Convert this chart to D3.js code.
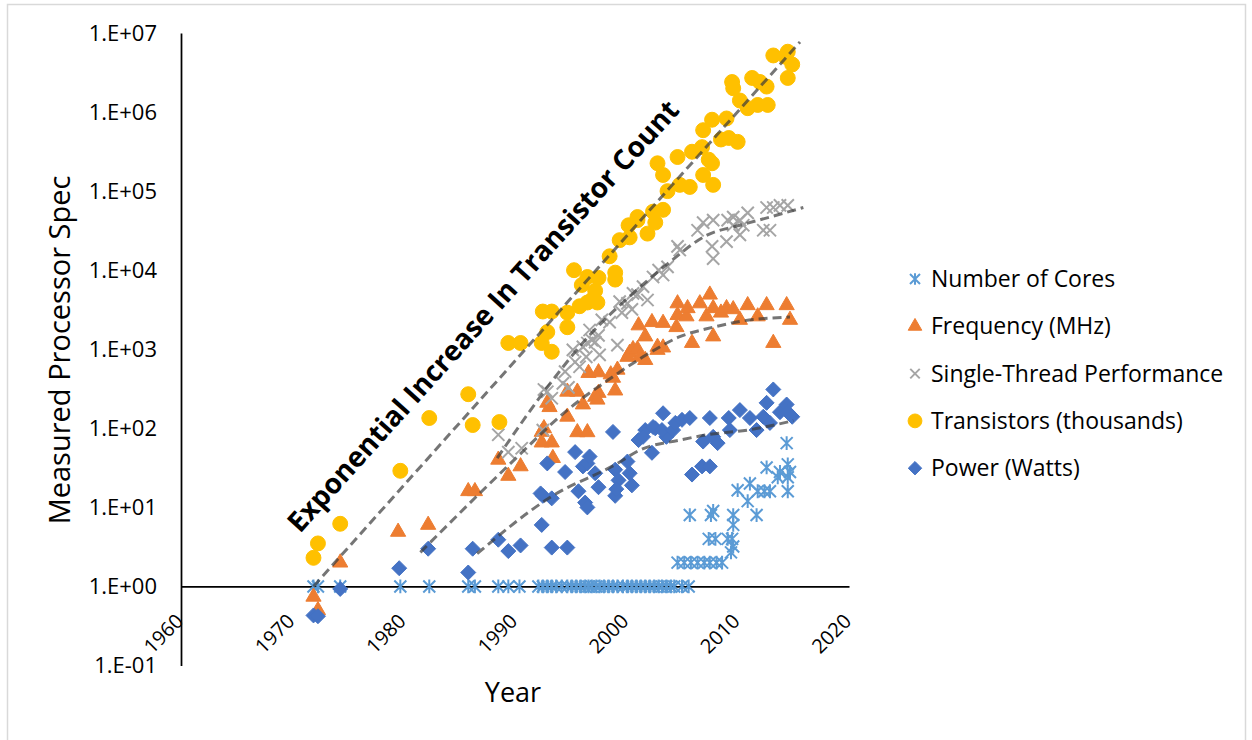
<!DOCTYPE html>
<html>
<head>
<meta charset="utf-8">
<script src="https://cdn.jsdelivr.net/npm/d3@7"></script>
<style>
  body { margin: 0; background: #fff; }
  text { font-family: "Open Sans", sans-serif; fill: #000; }
</style>
</head>
<body>
<svg id="chart" width="1252" height="740"></svg>
<script>
// ---- data: [year, value] ----
const cores = [
  [1971.9,1],[1972.3,1],[1974.3,1],[1979.7,1],[1982.3,1],[1985.8,1],[1986.4,1],[1988.5,1],[1989.4,1],[1990.4,1],
  [1992.1,1],[1992.5,1],[1992.9,1],[1993.3,1],[1993.7,1],[1994.2,1],[1994.7,1],[1995.1,1],[1995.5,1],[1995.9,1],
  [1996.3,1],[1996.6,1],[1996.9,1],[1997.3,1],[1997.6,1],[1998.0,1],[1998.4,1],[1998.8,1],[1999.2,1],[1999.7,1],
  [2000.1,1],[2000.5,1],[2000.9,1],[2001.3,1],[2001.7,1],[2002.1,1],[2002.5,1],[2002.9,1],[2003.2,1],[2003.6,1],
  [2004.0,1],[2004.3,1],[2005.0,1],[2005.6,1],
  [2004.6,2],[2005.2,2],[2005.8,2],[2006.4,2],[2007.0,2],[2007.5,2],[2008.1,2],[2008.6,2],
  [2007.4,4],[2008.0,4],[2009.1,4],[2009.5,4],[2009.6,3.2],[2009.4,2.7],
  [2005.7,8],[2007.6,8],[2007.8,9],[2009.6,8],[2009.6,6],[2011.7,8],
  [2010.9,12],[2010.0,16.5],[2011.1,20],[2011.8,16],[2012.4,16],[2012.9,16],[2012.6,32],
  [2013.6,24],[2013.8,28],[2014.5,35],[2014.5,24],[2014.5,16],[2014.4,65],[2014.7,28]
];

const frequency = [
  [1971.9,0.74],[1972.3,0.5],[1974.3,2.0],[1979.5,4.9],[1982.2,6],[1985.8,16],[1986.4,16],[1988.5,40],
  [1989.4,25],[1990.5,33],[1992.4,66],[1993.3,66],[1992.6,100],[1992.4,90],[1993.1,185],[1992.9,210],
  [1993.4,42],[1994.7,290],[1995.6,290],[1994.7,140],[1995.6,89],[1996.5,89],[1996.1,200],[1996.6,500],
  [1997.5,510],[1997.5,280],[1997.2,250],[1997.4,230],[1998.6,480],[1998.8,435],[1999.0,300],[1999.2,550],
  [2000.1,800],[2000.3,900],[2000.6,1000],[2001.0,1000],[2001.2,800],[2001.7,730],[2002.8,1070],[2002.8,980],
  [2003.3,1050],[2001.1,2000],[2001.7,1450],[2002.3,2200],[2003.3,2150],[2004.5,1900],[2004.6,2700],
  [2004.6,3800],[2005.4,2600],[2005.5,3300],[2005.9,1200],[2006.6,3800],[2007.2,2600],[2007.5,4900],
  [2007.8,3300],[2007.8,1450],[2008.5,2900],[2009.0,3300],[2009.6,3200],[2010.2,2350],[2010.9,3600],
  [2011.8,2600],[2012.6,3600],[2013.2,1200],[2014.4,3600],[2014.7,2350]
];

const singleThread = [
  [1988.5,83],[1989.4,50],[1990.6,56],[1992.5,95],[1992.6,310],[1992.9,290],[1993.3,240],[1994.3,370],
  [1994.5,520],[1994.8,330],[1995.2,980],[1995.4,690],[1995.8,600],[1996.1,1070],[1996.4,800],[1996.5,1200],
  [1996.7,1750],[1996.9,1300],[1997.2,1230],[1997.5,1500],[1997.6,850],[1997.8,2350],[1998.5,2200],
  [1999.2,1130],[1999.4,4000],[1999.6,2900],[2000.1,3800],[2000.5,3200],[2000.6,5100],[2001.0,4900],
  [2001.5,6200],[2001.9,4200],[2002.4,8200],[2002.9,10000],[2003.3,8700],[2003.7,11000],[2004.6,20000],
  [2004.8,18000],[2006.4,32000],[2006.9,40000],[2007.7,20000],[2007.8,14000],[2007.8,43000],[2009.0,23000],
  [2009.1,43000],[2009.6,37000],[2009.6,47000],[2010.2,28000],[2010.2,43000],[2010.5,37000],[2010.9,53000],
  [2012.3,32000],[2012.6,62000],[2012.9,32000],[2013.2,62000],[2013.8,66000],[2014.5,66000]
];

const transistors = [
  [1971.9,2.3],[1972.3,3.5],[1974.3,6.2],[1979.7,29],[1982.3,135],[1985.8,270],[1986.2,110],[1988.6,120],
  [1989.4,1200],[1990.5,1200],[1992.4,1200],[1992.5,3000],[1992.9,1650],[1993.3,3000],[1993.3,930],
  [1994.7,1900],[1994.7,2900],[1995.3,10000],[1995.8,3500],[1996.0,6500],[1996.5,8200],[1996.5,3900],
  [1996.9,4200],[1997.4,3900],[1997.5,8000],[1997.2,5500],[1998.5,15000],[1999.0,9300],[1999.0,7600],
  [1999.4,24000],[2000.2,37000],[2000.3,26000],[2001.0,47000],[2001.0,43000],[2001.9,29000],[2002.4,55000],
  [2002.6,40000],[2002.8,225000],[2003.3,58000],[2003.3,160000],[2003.7,100000],[2004.6,270000],
  [2004.8,120000],[2005.7,113000],[2005.9,315000],[2006.8,360000],[2006.9,590000],[2006.9,160000],
  [2007.4,250000],[2007.7,800000],[2007.7,225000],[2007.8,120000],[2008.5,450000],[2009.0,830000],
  [2009.2,470000],[2009.5,2400000],[2009.6,2000000],[2010.0,420000],[2010.2,1400000],[2010.9,1120000],
  [2011.3,2700000],[2011.8,1230000],[2012.0,2400000],[2012.6,2100000],[2012.7,1230000],[2013.2,5200000],
  [2014.3,5000000],[2014.5,5800000],[2014.5,2700000],[2014.9,4000000]
];

const power = [
  [1971.9,0.43],[1972.3,0.42],[1974.3,0.93],[1979.6,1.7],[1982.2,3.0],[1985.8,1.5],[1986.2,3.0],[1988.5,3.9],
  [1989.4,2.8],[1990.5,3.3],[1992.4,6],[1992.3,15],[1992.5,14],[1992.9,36],[1993.3,13],[1993.3,3.1],
  [1994.7,3.1],[1994.5,28],[1995.4,50],[1995.7,16],[1996.1,33],[1996.3,11.5],[1996.5,10],[1996.5,36],
  [1996.7,44],[1997.2,27],[1997.5,18],[1998.8,90],[1999.0,30],[1999.3,22],[1999.0,14],[1999.1,17],
  [2000.1,38],[2000.5,19],[2000.3,27],[2001.1,71],[2001.7,95],[2001.5,78],[2002.3,49],[2002.4,104],
  [2002.6,100],[2003.3,155],[2003.6,78],[2003.2,95],[2004.2,95],[2004.4,117],[2005.0,128],[2005.7,135],
  [2005.9,26],[2006.8,33],[2007.5,33],[2006.9,68],[2007.8,78],[2008.2,65],[2007.5,135],[2009.2,135],
  [2009.3,95],[2010.2,170],[2011.1,135],[2011.7,95],[2012.3,140],[2012.6,210],[2013.2,310],[2012.9,117],
  [2013.8,160],[2014.4,200],[2014.9,140],[2014.5,160]
];

// trend lines (dashed)
const trendTransistors = [[1971.9,1],[2015.6,7.7e6]];
const trendSingle = [[1988.4,42],[1992.9,330],[1996.5,1400],[2000.6,5100],[2003.7,12000],[2007.3,28000],[2010.2,37000],[2012.9,47000],[2015.9,62000]];
const trendFreq = [[1981.5,2.7],[1989.6,36],[1994.7,170],[1998.8,450],[2001.8,850],[2004.8,1440],[2007.8,1900],[2010.2,2250],[2014.7,2550]];
const trendPower = [[1986.6,2.6],[1993.2,13.5],[1999.2,36],[2001.2,53],[2004.8,71],[2007.3,83],[2010.9,95],[2015.0,125]];

const xTicks = [1960, 1970, 1980, 1990, 2000, 2010, 2020];
const yTicks = [1e-1, 1e0, 1e1, 1e2, 1e3, 1e4, 1e5, 1e6, 1e7];

const seriesNames = ["Number of Cores", "Frequency (MHz)", "Single-Thread Performance", "Transistors (thousands)", "Power (Watts)"];
const seriesColors = ["#5b9bd5", "#ed7d31", "#a5a5a5", "#ffc000", "#4472c4"];

// ---- drawing ----
const svg = d3.select("#chart");

svg.append("rect")
    .attr("x", 7.5).attr("y", 4.5)
    .attr("width", 1238).attr("height", 760)
    .attr("fill", "#fff")
    .attr("stroke", "#d9d9d9")
    .attr("stroke-width", 1.5);

const x = d3.scaleLinear().domain([1960, 2020]).range([181, 849]);
const y = d3.scaleLog().domain([1e-1, 1e7]).range([665.5, 33]);

// custom marker shapes
const starShape = {
  draw(ctx, size) {
    const r = Math.sqrt(size) / 2;
    ctx.moveTo(-r, -r); ctx.lineTo(r, r);
    ctx.moveTo(-r, r); ctx.lineTo(r, -r);
    ctx.moveTo(0, -r * 1.15); ctx.lineTo(0, r * 1.15);
  }
};
const crossShape = {
  draw(ctx, size) {
    const r = Math.sqrt(size) / 2;
    ctx.moveTo(-r, -r); ctx.lineTo(r, r);
    ctx.moveTo(-r, r); ctx.lineTo(r, -r);
  }
};
const diamondShape = {
  draw(ctx, size) {
    const r = Math.sqrt(size) / 2;
    ctx.moveTo(0, -r); ctx.lineTo(r, 0); ctx.lineTo(0, r); ctx.lineTo(-r, 0); ctx.closePath();
  }
};

const markers = [
  { data: cores,        sym: d3.symbol().type(starShape).size(144),          fill: "none",          stroke: seriesColors[0], sw: 2 },
  { data: frequency,    sym: d3.symbol().type(d3.symbolTriangle).size(100),  fill: seriesColors[1], stroke: seriesColors[1], sw: 1 },
  { data: singleThread, sym: d3.symbol().type(crossShape).size(150),         fill: "none",          stroke: seriesColors[2], sw: 2 },
  { data: transistors,  sym: d3.symbol().type(d3.symbolCircle).size(175),    fill: seriesColors[3], stroke: seriesColors[3], sw: 1 },
  { data: power,        sym: d3.symbol().type(diamondShape).size(225),       fill: seriesColors[4], stroke: seriesColors[4], sw: 1 }
];

// axes
const yAxis = d3.axisLeft(y)
    .tickValues(yTicks)
    .tickSize(0)
    .tickPadding(24)
    .tickFormat(d => {
      const e = Math.round(Math.log10(d));
      return "1.E" + (e < 0 ? "-" : "+") + String(Math.abs(e)).padStart(2, "0");
    });

const gy = svg.append("g")
    .attr("transform", "translate(181,0)")
    .call(yAxis);
gy.select(".domain").attr("stroke", "#000").attr("stroke-width", 1.75);
gy.selectAll("text")
    .style("font-family", "'Open Sans', sans-serif")
    .style("font-size", "22px")
    .attr("fill", "#000");

const xAxis = d3.axisBottom(x)
    .tickValues(xTicks)
    .tickSize(0)
    .tickFormat(d3.format("d"));

const gx = svg.append("g")
    .attr("transform", `translate(0,${y(1)})`)
    .call(xAxis);
gx.select(".domain").attr("stroke", "#000").attr("stroke-width", 1.75);
gx.selectAll("text")
    .style("font-family", "'Open Sans', sans-serif")
    .style("font-size", "20px")
    .attr("fill", "#000")
    .attr("text-anchor", "end")
    .attr("y", 0)
    .attr("dy", 0)
    .attr("transform", "translate(3,36) rotate(-45)");

// points
markers.forEach(m => {
  svg.append("g")
    .selectAll("path")
    .data(m.data)
    .join("path")
      .attr("transform", d => `translate(${x(d[0])},${y(d[1])})`)
      .attr("d", m.sym)
      .attr("fill", m.fill)
      .attr("stroke", m.stroke)
      .attr("stroke-width", m.sw);
});

// dashed trend lines
const line = d3.line()
    .x(d => x(d[0]))
    .y(d => y(d[1]))
    .curve(d3.curveMonotoneX);

[trendTransistors, trendSingle, trendFreq, trendPower].forEach(t => {
  svg.append("path")
    .datum(t)
    .attr("d", line)
    .attr("fill", "none")
    .attr("stroke", "#3a3a3a")
    .attr("stroke-opacity", 0.7)
    .attr("stroke-width", 3)
    .attr("stroke-dasharray", "9,5");
});

// axis titles
svg.append("text")
    .attr("transform", "translate(70,350) rotate(-90)")
    .attr("text-anchor", "middle")
    .style("font-size", "29px")
    .text("Measured Processor Spec");

svg.append("text")
    .attr("x", 513).attr("y", 702)
    .attr("text-anchor", "middle")
    .style("font-size", "27px")
    .text("Year");

// annotation
svg.append("text")
    .attr("transform", "translate(300,534) rotate(-48)")
    .style("font-size", "28px")
    .style("font-weight", "bold")
    .text("Exponential Increase In Transistor Count");

// legend
const legend = svg.append("g");
const legendSyms = [
  d3.symbol().type(starShape).size(100),
  d3.symbol().type(d3.symbolTriangle).size(80),
  d3.symbol().type(crossShape).size(90),
  d3.symbol().type(d3.symbolCircle).size(150),
  d3.symbol().type(diamondShape).size(180)
];
seriesNames.forEach((name, i) => {
  const gy0 = 279 + i * 47.3;
  const filled = i === 1 || i === 3 || i === 4;
  legend.append("path")
    .attr("transform", `translate(915,${gy0})`)
    .attr("d", legendSyms[i])
    .attr("fill", filled ? seriesColors[i] : "none")
    .attr("stroke", seriesColors[i])
    .attr("stroke-width", filled ? 1 : 2);
  legend.append("text")
    .attr("x", 931).attr("y", gy0)
    .attr("dy", "0.35em")
    .style("font-size", "23px")
    .text(name);
});
</script>
</body>
</html>
